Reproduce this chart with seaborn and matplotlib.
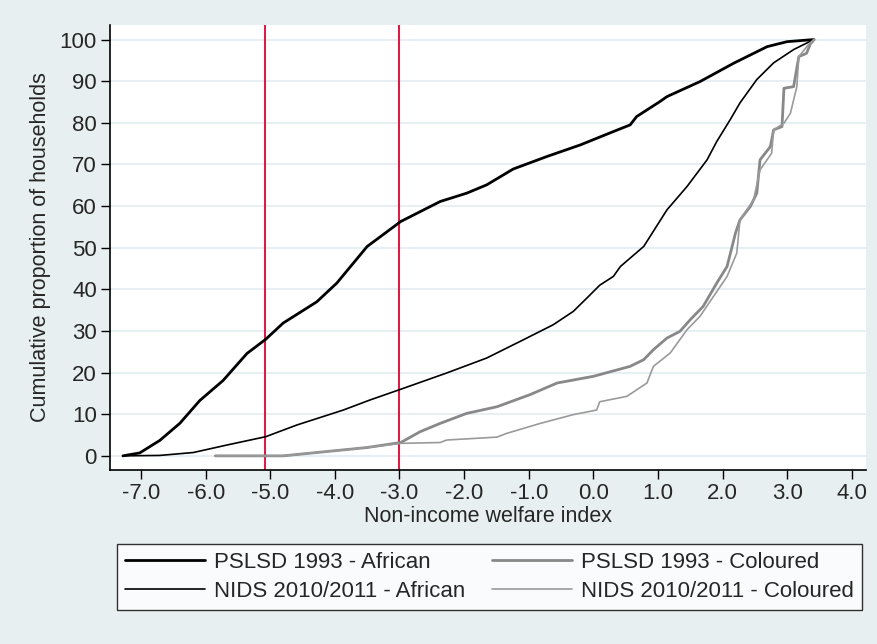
import matplotlib
matplotlib.use("Agg")
import matplotlib.pyplot as plt
import seaborn as sns
import pandas as pd
import numpy as np

# ---- data ----
pslsd_af_x = [-7.28, -7.02, -6.71, -6.40, -6.09, -5.73, -5.36, -5.07, -4.80, -4.28, -3.97, -3.50,
              -3.30, -2.98, -2.37, -1.96, -1.65, -1.24, -0.72, -0.20, 0.31, 0.57, 0.67, 1.03,
              1.14, 1.65, 2.17, 2.69, 3.00, 3.41]
pslsd_af_y = [0.0, 0.7, 3.7, 7.8, 13.3, 18.1, 24.6, 28.0, 31.9, 37.0, 41.5, 50.3,
              52.6, 56.3, 61.1, 63.1, 65.1, 68.9, 71.9, 74.7, 77.9, 79.5, 81.5, 85.1,
              86.3, 89.9, 94.3, 98.3, 99.5, 100.0]

nids_af_x = [-7.28, -6.71, -6.19, -5.67, -5.07, -4.59, -3.87, -3.46, -2.98, -2.27, -1.65, -1.08,
             -0.62, -0.31, -0.10, 0.10, 0.31, 0.42, 0.72, 0.78, 1.14, 1.45, 1.76, 1.91, 2.12,
             2.27, 2.53, 2.79, 3.10, 3.36]
nids_af_y = [0.0, 0.1, 0.8, 2.6, 4.6, 7.4, 11.0, 13.4, 16.0, 19.9, 23.5, 27.9,
             31.5, 34.7, 37.9, 41.0, 43.1, 45.5, 49.5, 50.3, 59.1, 64.7, 71.1, 75.5, 80.8,
             84.8, 90.4, 94.4, 97.6, 99.6]

pslsd_col_x = [-5.85, -4.80, -3.50, -2.98, -2.68, -2.37, -1.96, -1.49, -0.98, -0.56, 0.00, 0.57,
               0.78, 0.93, 1.14, 1.34, 1.50, 1.70, 1.91, 2.07, 2.20, 2.27, 2.43, 2.53, 2.58,
               2.74, 2.79, 2.92, 2.95, 3.10, 3.18, 3.30, 3.36, 3.42]
pslsd_col_y = [0.0, 0.0, 2.0, 3.2, 5.8, 7.8, 10.2, 11.8, 14.7, 17.5, 19.1, 21.5,
               23.1, 25.5, 28.3, 29.9, 32.7, 35.9, 41.5, 45.5, 53.5, 56.7, 59.9, 63.1, 71.1,
               74.3, 78.3, 79.1, 88.3, 88.7, 95.9, 96.7, 99.0, 100.0]

nids_col_x = [-5.85, -4.80, -3.50, -2.98, -2.37, -2.27, -1.49, -1.34, -0.82, -0.31, 0.05, 0.10,
              0.52, 0.83, 0.93, 1.19, 1.45, 1.65, 1.86, 2.07, 2.22, 2.27, 2.48, 2.58, 2.76,
              2.79, 2.95, 3.05, 3.15, 3.18, 3.33, 3.42]
nids_col_y = [0.0, 0.0, 2.0, 3.0, 3.2, 3.8, 4.5, 5.4, 7.8, 9.9, 11.0, 13.0,
              14.3, 17.5, 21.5, 24.7, 30.3, 33.5, 38.3, 43.1, 48.7, 56.7, 61.5, 68.7, 72.7,
              78.3, 79.9, 82.3, 88.7, 95.9, 98.8, 100.0]

ref_lines = [-5.08, -3.0]
x_ticks = [-7.0, -6.0, -5.0, -4.0, -3.0, -2.0, -1.0, 0.0, 1.0, 2.0, 3.0, 4.0]
y_ticks = [0, 10, 20, 30, 40, 50, 60, 70, 80, 90, 100]
labels = ["PSLSD 1993 - African", "NIDS 2010/2011 - African",
          "PSLSD 1993 - Coloured", "NIDS 2010/2011 - Coloured"]

# ---- styling ----
sns.set_theme(style="white")
plt.rcParams["font.family"] = ["Liberation Sans", "DejaVu Sans"]
bg = "#E8EFF1"

fig = plt.figure(figsize=(8.77, 6.44), dpi=100, facecolor=bg)
ax = fig.add_axes([110/877, 1-470/644, (866-110)/877, (470-25)/644])
ax.set_facecolor("white")

for yv in y_ticks:
    ax.axhline(yv, color="#E6EEF1", lw=1.3, zorder=0)

for xv in ref_lines:
    ax.axvline(xv, color="#D81E48", lw=1.5, zorder=1)

series = [
    (pslsd_af_x, pslsd_af_y, labels[0], "black", 2.0),
    (nids_af_x, nids_af_y, labels[1], "black", 1.2),
    (pslsd_col_x, pslsd_col_y, labels[2], "#888888", 2.0),
    (nids_col_x, nids_col_y, labels[3], "#9a9a9a", 1.2),
]
for xs, ys, lab, col, lw in series:
    df = pd.DataFrame({"x": xs, "y": ys})
    sns.lineplot(data=df, x="x", y="y", ax=ax, color=col, lw=lw, sort=False,
                 estimator=None, label=lab, zorder=3)

ax.set_xlim(-7.48, 4.22)
ax.set_ylim(-3.4, 103.5)
ax.set_xticks(x_ticks)
ax.set_xticklabels([f"{v:.1f}" for v in x_ticks])
ax.set_yticks(y_ticks)
ax.set_yticklabels([str(v) for v in y_ticks])
ax.tick_params(axis="both", direction="out", length=6.5, width=1, color="black",
               labelsize=16, pad=3, left=True, bottom=True)
for s in ["top", "right"]:
    ax.spines[s].set_visible(False)
for s in ["left", "bottom"]:
    ax.spines[s].set_color("black")
    ax.spines[s].set_linewidth(1.2)

ax.set_xlabel("Non-income welfare index", fontsize=15.5, labelpad=1)
ax.set_ylabel("Cumulative proportion of households", fontsize=15.5, labelpad=6)

h, l = ax.get_legend_handles_labels()
ax.get_legend().remove()
leg = fig.legend(h, l,
                 loc="center", bbox_to_anchor=(117/877, 1-610/644, 745/877, 66/644),
                 mode="expand", ncol=2, frameon=True, fancybox=False, fontsize=16,
                 handlelength=3.6, borderpad=0.35, labelspacing=0.35, columnspacing=1.0,
                 handletextpad=0.4, borderaxespad=0)
leg.get_frame().set_edgecolor("black")
leg.get_frame().set_linewidth(1.0)
leg.get_frame().set_facecolor("white")

fig.savefig("out.png", dpi=100, facecolor=bg)
